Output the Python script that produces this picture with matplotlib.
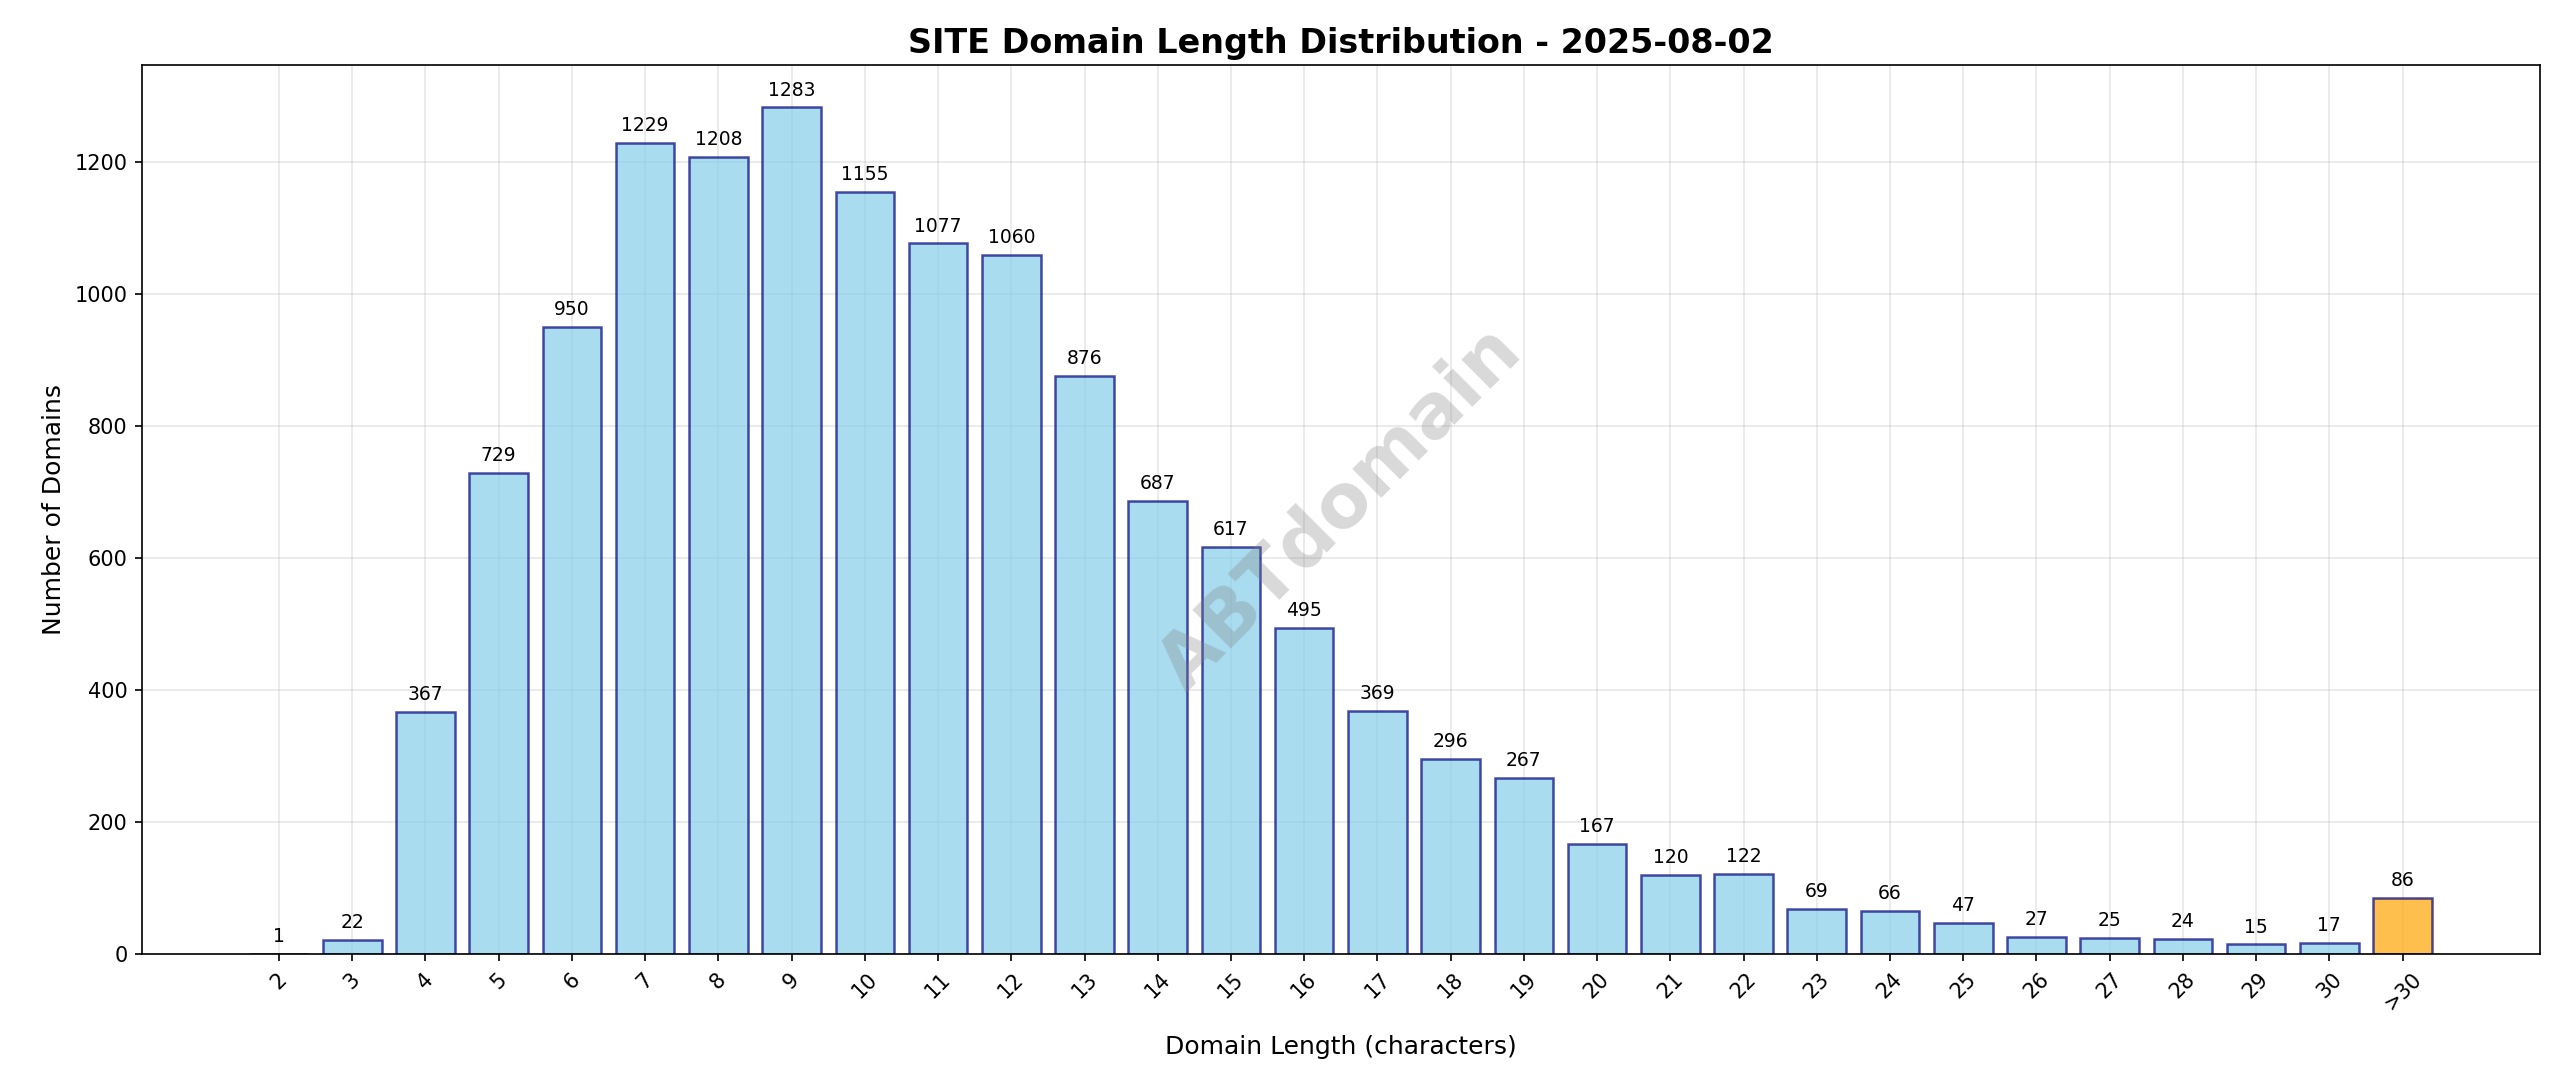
import matplotlib
matplotlib.use("Agg")
import matplotlib.pyplot as plt

categories = [str(i) for i in range(2, 31)] + [">30"]
counts = [1, 22, 367, 729, 950, 1229, 1208, 1283, 1155, 1077, 1060, 876, 687, 617, 495,
          369, 296, 267, 167, 120, 122, 69, 66, 47, 27, 25, 24, 15, 17, 86]

fig = plt.figure(figsize=(2560/150, 1087/150), dpi=150)
ax = fig.add_axes([0.0555, 0.122, 0.9365, 0.818])
x = list(range(len(categories)))
colors = ["skyblue"] * (len(categories) - 1) + ["orange"]
bars = ax.bar(x, counts, color=colors, edgecolor="navy", alpha=0.7, linewidth=1.2, width=0.8)
for xi, v in zip(x, counts):
    ax.text(xi, v + 12, str(v), ha="center", va="bottom", fontsize=9)
ax.set_xticks(x)
ax.set_xticklabels(categories, rotation=45)
ax.set_xlim(-1.87, len(categories) - 1 + 1.87)
ax.set_ylim(0, 1347)
ax.grid(True, alpha=0.3)
ax.set_axisbelow(True)
ax.set_title("SITE Domain Length Distribution - 2025-08-02", fontsize=16, fontweight="bold")
ax.set_xlabel("Domain Length (characters)", fontsize=12, labelpad=10)
ax.set_ylabel("Number of Domains", fontsize=12)
ax.text(0.5, 0.5, "ABTdomain", transform=ax.transAxes, fontsize=36, fontweight="bold",
        color="gray", alpha=0.3, rotation=45, ha="center", va="center")
fig.savefig("out.png", dpi=150)
